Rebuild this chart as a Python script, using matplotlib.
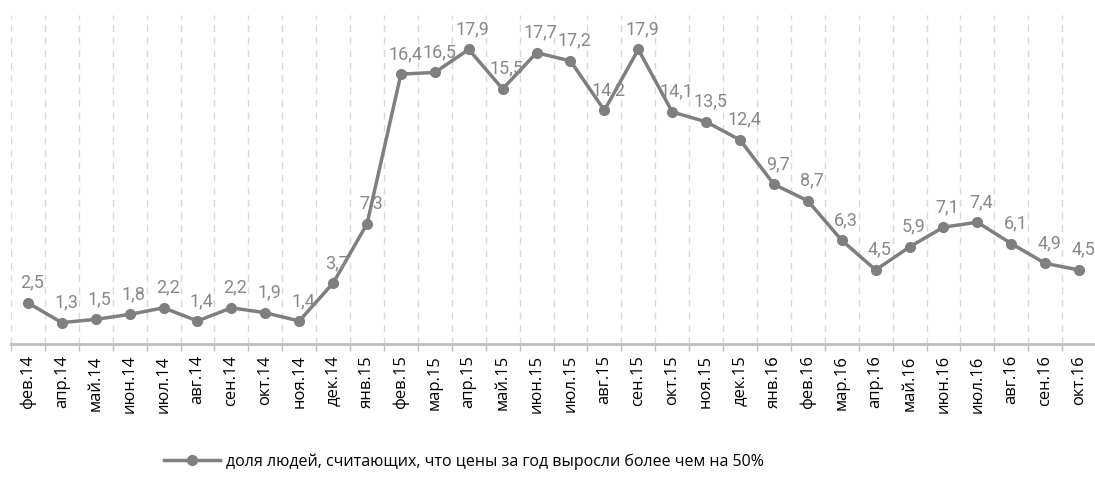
import numpy as np
import matplotlib.pyplot as plt
from matplotlib.ticker import FixedLocator

months = ["фев.14", "апр.14", "май.14", "июн.14", "июл.14", "авг.14", "сен.14", "окт.14",
          "ноя.14", "дек.14", "янв.15", "фев.15", "мар.15", "апр.15", "май.15", "июн.15",
          "июл.15", "авг.15", "сен.15", "окт.15", "ноя.15", "дек.15", "янв.16", "фев.16",
          "мар.16", "апр.16", "май.16", "июн.16", "июл.16", "авг.16", "сен.16", "окт.16"]
share = [2.5, 1.3, 1.5, 1.8, 2.2, 1.4, 2.2, 1.9, 1.4, 3.7, 7.3, 16.4, 16.5, 17.9, 15.5, 17.7,
         17.2, 14.2, 17.9, 14.1, 13.5, 12.4, 9.7, 8.7, 6.3, 4.5, 5.9, 7.1, 7.4, 6.1, 4.9, 4.5]
series_name = "доля людей, считающих, что цены за год выросли более чем на 50%"

grey = "#7f7f7f"
label_font = ["Roboto", "DejaVu Sans"]
tick_font = ["Open Sans", "DejaVu Sans"]

fig = plt.figure(figsize=(10.95, 4.95), dpi=100)
ax = fig.add_axes([0.010, 0.305, 0.991, 0.665])

x = np.arange(len(months))
line, = ax.plot(x, share, color=grey, lw=2.5, marker="o", ms=7, label=series_name, zorder=3)

for xi, v in zip(x, share):
    ax.annotate(f"{v}".replace(".", ","), (xi, v), xytext=(3, 8), textcoords="offset points",
                ha="center", va="bottom", fontsize=13, color="#888888", family=label_font)

ax.set_xlim(-0.5, len(months) - 0.5)
ax.set_ylim(0, 20)
ax.set_yticks([])
ax.set_xticks(x)
ax.set_xticklabels(months, rotation=90, fontsize=12, family=tick_font)
ax.tick_params(axis="x", which="major", length=0, pad=8)
ax.xaxis.set_minor_locator(FixedLocator(np.arange(-0.5, len(months), 1.0)))
ax.tick_params(axis="x", which="minor", length=5, color="#bfbfbf", width=1)
ax.grid(axis="x", which="minor", color="#d9d9d9", linestyle=(0, (5, 4)), lw=1)

for s in ["top", "right", "left"]:
    ax.spines[s].set_visible(False)
ax.spines["bottom"].set_color("#bfbfbf")
ax.spines["bottom"].set_linewidth(2)

fig.legend(handles=[line], loc="center", bbox_to_anchor=(0.424, 0.067), frameon=False,
           prop={"family": tick_font, "size": 11.5}, handlelength=3.5, handletextpad=0.4)

fig.savefig("out.png", dpi=100)
